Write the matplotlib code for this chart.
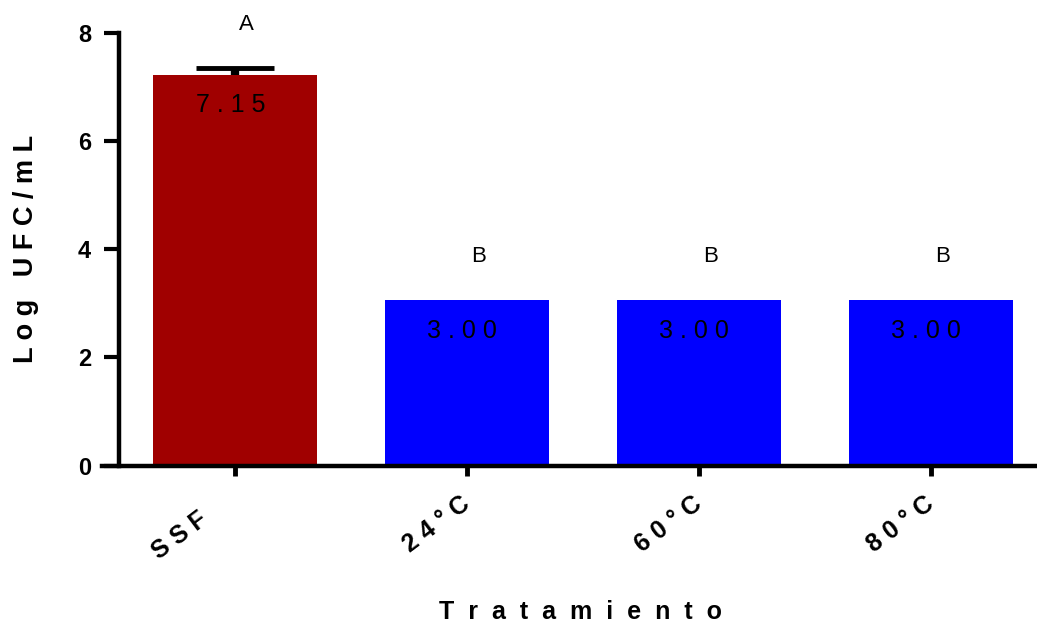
import matplotlib
matplotlib.use("Agg")
import matplotlib.pyplot as plt
import matplotlib.transforms as mtransforms

plt.rcParams['font.family'] = ['Liberation Sans', 'DejaVu Sans']

# data
treatments = ["SSF", "24°C", "60°C", "80°C"]
log_ufc = [7.22, 3.05, 3.05, 3.05]
errors = [0.12, 0, 0, 0]
value_labels = ["7.15", "3.00", "3.00", "3.00"]
letters = ["A", "B", "B", "B"]
bar_colors = ["#a00000", "#0000ff", "#0000ff", "#0000ff"]


def spaced(text, gap=" "):
    # graphpad-style letter spacing
    return gap.join(text)


fig = plt.figure(figsize=(10.37, 6.23), dpi=100)
ax = fig.add_axes([0.0984, 0.2528, 0.9016, 0.6950])

x = list(range(len(treatments)))
ax.bar(x, log_ufc, width=0.707, color=bar_colors, zorder=2)

# error bar (only the upper half shows above the bar)
eb = ax.errorbar(x[0], log_ufc[0], yerr=[[0], [errors[0]]], fmt="none",
                 ecolor="black", elinewidth=6, capsize=28, capthick=3.5,
                 zorder=3)
eb[1][0].set_visible(False)  # hide the lower cap

for xi, h, lab in zip(x, log_ufc, value_labels):
    ax.text(xi - 0.02, h - 0.56, spaced(lab, " "), ha="center", va="center",
            fontsize=18, color="black", zorder=4)

for xi, h, e, let in zip(x, log_ufc, errors, letters):
    ax.text(xi + 0.05, h + e + 0.81, let, ha="center", va="center",
            fontsize=16, clip_on=False)

ax.set_xlim(-0.573, 3.457)
ax.set_ylim(0, 8)
ax.set_yticks([0, 2, 4, 6, 8])
ax.set_xticks(x)

ax.spines["top"].set_visible(False)
ax.spines["right"].set_visible(False)
ax.spines["left"].set_position(("data", -0.5))
ax.spines["left"].set_linewidth(3.2)
ax.spines["bottom"].set_linewidth(3.2)

ax.tick_params(axis="y", direction="out", length=11, width=3, pad=9,
               labelsize=17)
ax.tick_params(axis="x", direction="out", length=7, width=3.5, pad=19,
               labelsize=18)
for t in ax.get_yticklabels():
    t.set_fontweight("bold")

ax.set_xticklabels([spaced(t, " ") for t in treatments], rotation=37,
                   ha="right", va="center", rotation_mode="anchor",
                   fontweight="bold")
# SSF label sits a bit further left in the original
lab0 = ax.get_xticklabels()[0]
lab0.set_transform(lab0.get_transform() +
                   mtransforms.ScaledTranslation(-0.3, -0.15, fig.dpi_scale_trans))

ax.set_xlabel(spaced("Tratamiento", "  "), fontsize=18, fontweight="bold",
              va="top")
ax.xaxis.set_label_coords(0.512, -0.31)
ax.set_ylabel("   ".join(spaced(w, " ") for w in ["Log", "UFC/mL"]),
              fontsize=19.5, fontweight="bold", va="center")
ax.yaxis.set_label_coords(-0.081, 0.5)

fig.savefig("out.png", dpi=100)
